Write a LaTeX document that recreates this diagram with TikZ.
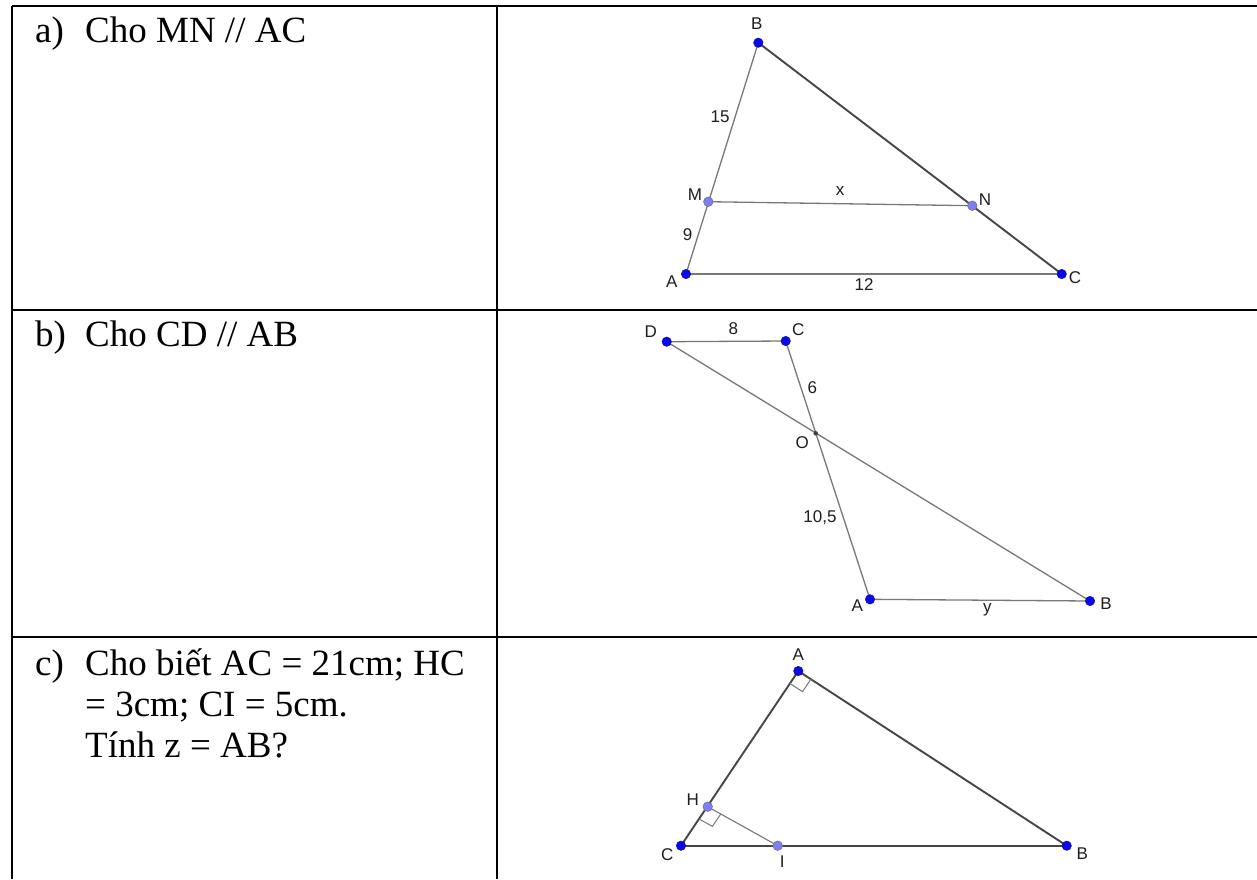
\documentclass[tikz,border=0pt]{standalone}
\usepackage{fontspec}
\setmainfont{Liberation Serif}
\newfontfamily\lblfont{Liberation Sans}
\usetikzlibrary{calc}
\definecolor{ptdark}{RGB}{10,10,230}
\definecolor{ptlite}{RGB}{125,125,255}
\definecolor{segthin}{RGB}{120,120,120}
\definecolor{segthick}{RGB}{70,70,70}
\definecolor{lblcol}{RGB}{30,30,30}
\begin{document}
\begin{tikzpicture}[x=1pt,y=-1pt,
  tbl/.style={line width=2pt, black},
  txt/.style={anchor=base west, inner sep=0pt, font=\fontsize{37}{42}\selectfont},
  lbl/.style={inner sep=0pt, text=lblcol, font=\lblfont\fontsize{17}{19}\selectfont},
  segA/.style={draw=segthin, line width=1.3pt},
  segB/.style={draw=segthick, line width=1.9pt},
  ptblue/.style={circle, fill=ptdark, draw=ptdark!70!black, line width=0.4pt, minimum size=9.5pt, inner sep=0pt},
  ptlight/.style={circle, fill=ptlite, draw=black!55, line width=0.6pt, minimum size=9.5pt, inner sep=0pt},
  ptsmall/.style={circle, fill=black!75, minimum size=4.5pt, inner sep=0pt},
  rtmark/.style={draw=segthin, line width=1pt}]
\useasboundingbox (0,0) rectangle (1257,879);
\fill[white] (0,0) rectangle (1257,879);

% table
\draw[tbl] (12,6) -- (1257,6);
\draw[tbl] (12,310) -- (1257,310);
\draw[tbl] (12,637) -- (1257,637);
\draw[tbl] (12,6) -- (12,879);
\draw[tbl] (497,6) -- (497,879);

% texts
\node[txt] (ta1) at (35,42) {a)};
\node[txt] (ta2) at (85,42) {Cho MN // AC};
\node[txt] (tb1) at (35,346) {b)};
\node[txt] (tb2) at (85,346) {Cho CD // AB};
\node[txt] (tc1) at (35,675) {c)};
\node[txt] (tc2) at (85,675) {Cho biết AC = 21cm; HC};
\node[txt] (tc3) at (85,716) {= 3cm; CI = 5cm.};
\node[txt] (tc4) at (85,757) {Tính z = AB?};

% ---------- figure a ----------
\coordinate (aB) at (758.3,42.7);
\coordinate (aM) at (708.3,201.7);
\coordinate (aN) at (972.3,205.7);
\coordinate (aA) at (686,274);
\coordinate (aC) at (1061.7,274);
\draw[segA] (aA) -- (aB);
\draw[segB] (aB) -- (aC);
\draw[segA, line width=1.5pt] (aA) -- (aC);
\draw[segA] (aM) -- (aN);
\node[ptblue] (daB) at (aB) {};
\node[ptblue] (daA) at (aA) {};
\node[ptblue] (daC) at (aC) {};
\node[ptlight] (daM) at (aM) {};
\node[ptlight] (daN) at (aN) {};
\node[lbl] (laB) at (756.7,24) {B};
\node[lbl] (la15) at (720,116.7) {15};
\node[lbl] (laM) at (695,195) {M};
\node[lbl] (lax) at (840,190.7) {x};
\node[lbl] (laN) at (985,200) {N};
\node[lbl] (la9) at (687.7,235) {9};
\node[lbl] (laA) at (671.7,281.7) {A};
\node[lbl] (la12) at (864,285) {12};
\node[lbl] (laC) at (1075,277.3) {C};

% ---------- figure b ----------
\coordinate (bD) at (666.7,341.7);
\coordinate (bC) at (785.7,341);
\coordinate (bO) at (815.7,433.3);
\coordinate (bA) at (870,599.3);
\coordinate (bB) at (1090,601);
\draw[segA] (bD) -- (bC);
\draw[segA] (bD) -- (bB);
\draw[segA] (bC) -- (bA);
\draw[segA] (bA) -- (bB);
\node[ptblue] (dbD) at (bD) {};
\node[ptblue] (dbC) at (bC) {};
\node[ptblue] (dbA) at (bA) {};
\node[ptblue] (dbB) at (bB) {};
\node[ptsmall] (dbO) at (bO) {};
\node[lbl] (lbD) at (650.7,331.7) {D};
\node[lbl] (lb8) at (733.3,328.3) {8};
\node[lbl] (lbC) at (798.3,330) {C};
\node[lbl] (lb6) at (812.3,387.3) {6};
\node[lbl] (lbO) at (802.3,442.7) {O};
\node[lbl] (lb105) at (820,517.3) {10,5};
\node[lbl] (lbA) at (857.3,606) {A};
\node[lbl] (lby) at (987.3,609.3) {y};
\node[lbl] (lbB) at (1106,603.3) {B};

% ---------- figure c ----------
\coordinate (cA) at (798.3,671);
\coordinate (cH) at (707.7,806.7);
\coordinate (cC) at (681,845.7);
\coordinate (cI) at (777.7,845.7);
\coordinate (cB) at (1066.7,845.7);
\draw[segB] (cA) -- (cC);
\draw[segB] (cA) -- (cB);
\draw[segB] (cC) -- (cB);
\draw[segA, line width=1.1pt] (cH) -- (cI);
% right angle marks
\coordinate (rA1) at ($(cA)!15pt!(cC)$);
\coordinate (rA2) at ($(cA)!15pt!(cB)$);
\draw[rtmark] (rA1) -- ($(rA1)+(rA2)-(cA)$) -- (rA2);
\coordinate (rH1) at ($(cH)!15pt!(cC)$);
\coordinate (rH2) at ($(cH)!15pt!(cI)$);
\draw[rtmark] (rH1) -- ($(rH1)+(rH2)-(cH)$) -- (rH2);
\node[ptblue] (dcA) at (cA) {};
\node[ptblue] (dcC) at (cC) {};
\node[ptblue] (dcB) at (cB) {};
\node[ptlight] (dcH) at (cH) {};
\node[ptlight] (dcI) at (cI) {};
\node[lbl] (lcA) at (798.3,655) {A};
\node[lbl] (lcH) at (692.7,800) {H};
\node[lbl] (lcC) at (667.3,855) {C};
\node[lbl] (lcI) at (782.3,861.7) {I};
\node[lbl] (lcB) at (1082.3,853.3) {B};
\end{tikzpicture}
\end{document}
